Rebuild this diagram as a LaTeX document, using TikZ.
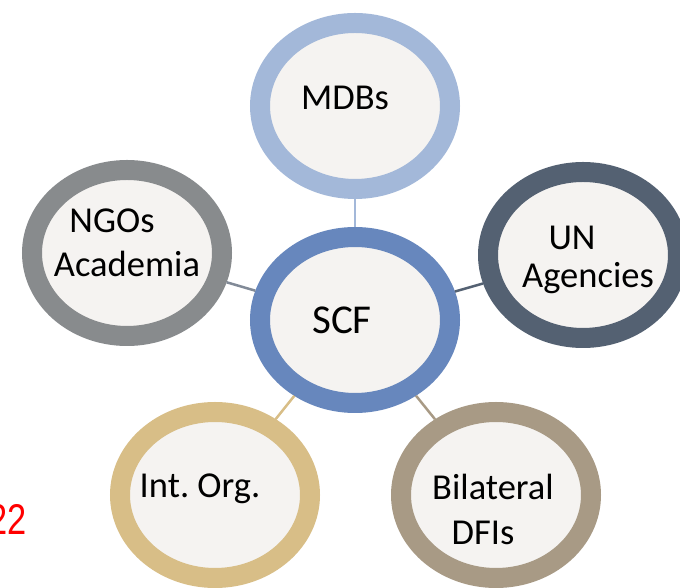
\documentclass[tikz,border=0pt]{standalone}
\usepackage{fontspec}
\usepackage{graphicx}
\setmainfont{Carlito}
\newfontfamily\pagefont{Liberation Sans}
\usetikzlibrary{shapes.geometric, positioning}
\definecolor{scfcol}{RGB}{103,135,189}
\definecolor{mdbcol}{RGB}{163,184,217}
\definecolor{uncol}{RGB}{84,97,114}
\definecolor{ngocol}{RGB}{136,139,141}
\definecolor{intcol}{RGB}{216,190,135}
\definecolor{bilcol}{RGB}{168,154,133}
\definecolor{ringfill}{RGB}{245,243,241}
\frenchspacing

\begin{document}
\begin{tikzpicture}[x=1pt, y=1pt,
                ring/.style={
                  ellipse, draw=#1, line width=20pt, fill=ringfill, inner sep=0pt,
                  minimum width=190pt, minimum height=166pt
                },
                lbl/.style={anchor=base, font=\fontsize{36.5}{40}\selectfont},
                link/.style={draw=#1, line width=2.5pt}
                ]
                \useasboundingbox (0,0) rectangle (680,588);
                \clip (0,0) rectangle (680,588);
                % rings
                \node [ring=scfcol] (scf) at (355,268) {};
                \node [ring=mdbcol, above=28pt of scf] (mdb) {};
                \node [ring=ngocol] (ngo) at (127,335) {};
                \node [ring=uncol] (un) at (583,333) {};
                \node [ring=intcol] (intorg) at (215,93) {};
                \node [ring=bilcol] (bil) at (496,93) {};
                % links to the centre
                \draw [link=mdbcol] (scf) -- (mdb);
                \draw [link=ngocol!80!scfcol] (scf) -- (ngo);
                \draw [link=uncol] (scf) -- (un);
                \draw [link=intcol] (scf) -- (intorg);
                \draw [link=bilcol] (scf) -- (bil);
                % labels
                \node [lbl, font=\fontsize{41}{46}\selectfont] (scft) at (342,254) {SCF};
                \node [lbl] (mdbt) at (345,478) {MDBs};
                \node [lbl] (ngot) at (112,355) {NGOs};
                \node [lbl] (acat) at (127,311) {Academia};
                \node [lbl] (unt) at (572,338) {UN};
                \node [lbl] (agt) at (588,300) {Agencies};
                \node [lbl] (intt) at (200,90) {Int. Org.};
                \node [lbl] (bilt) at (493,88) {Bilateral};
                \node [lbl] (dfit) at (483,43) {DFIs};
                \node [anchor=base east, text=red, inner sep=0pt,
                       font=\pagefont\fontsize{43}{48}\selectfont] (pgno) at (27,53) {\scalebox{0.8}[1]{22}};
\end{tikzpicture}
\end{document}
